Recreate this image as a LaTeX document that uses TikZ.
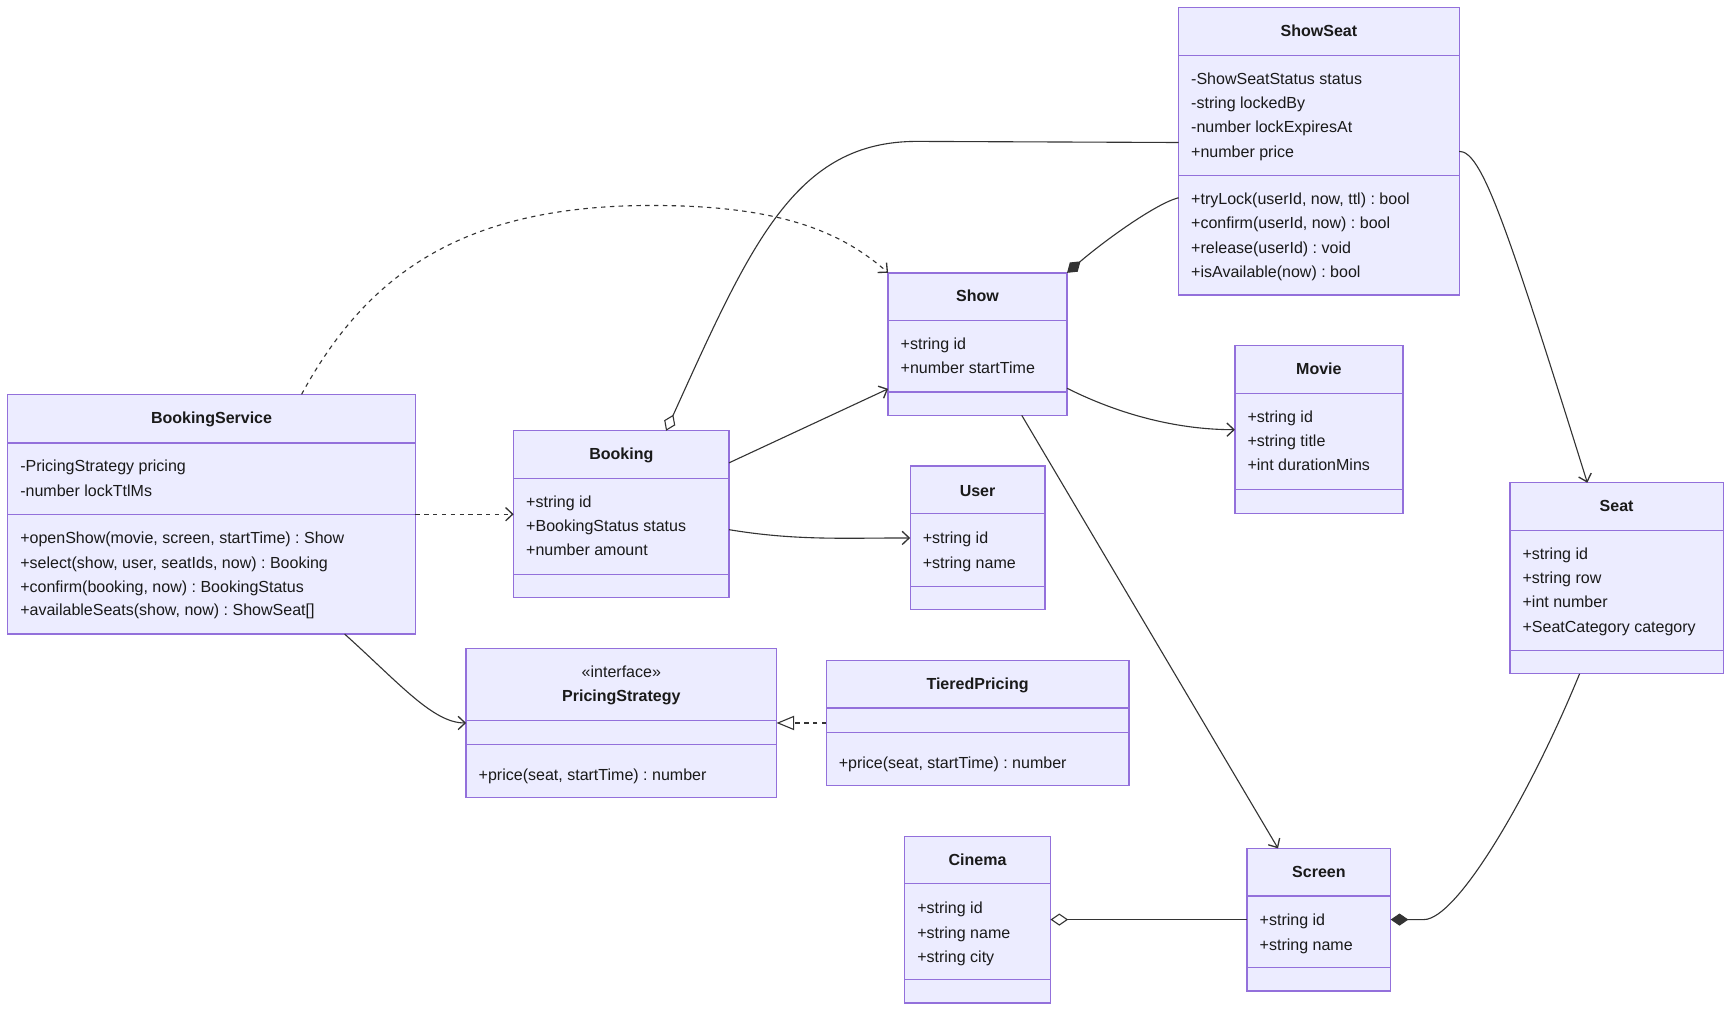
\documentclass[tikz,border=0pt]{standalone}
\usepackage{fontspec}
\setmainfont{Liberation Sans}
\usetikzlibrary{arrows.meta,calc}
\frenchspacing
\definecolor{boxfill}{HTML}{ECECFF}
\definecolor{boxline}{HTML}{9370DB}
\definecolor{edgecol}{HTML}{333333}
\definecolor{txtcol}{HTML}{1A1A1A}
\tikzset{
  classbox/.style={draw=boxline, fill=boxfill, line width=0.6pt, rectangle, inner sep=0pt, outer sep=0pt, anchor=north west},
  divider/.style={draw=boxline, line width=0.6pt},
  titletext/.style={font=\fontsize{7.25}{9}\selectfont\bfseries, text=txtcol, inner sep=0pt, anchor=mid},
  plaintext/.style={font=\fontsize{7.25}{9}\selectfont, text=txtcol, inner sep=0pt, anchor=mid},
  linetext/.style={font=\fontsize{7.25}{9}\selectfont, text=txtcol, inner sep=0pt, anchor=mid west},
  rel/.style={draw=edgecol, line width=0.5pt},
  dashedrel/.style={rel, dash pattern=on 2pt off 2pt},
  veetip/.style={-{Straight Barb[length=3.2pt,width=6pt,line width=0.6pt]}},
  opendia/.style={-{Diamond[length=8pt,width=5.5pt,fill=white,line width=0.5pt]}},
  filldia/.style={-{Diamond[length=8pt,width=5.5pt,fill=edgecol,line width=0.5pt]}},
  opentri/.style={-{Triangle[length=8pt,width=6.5pt,fill=white,line width=0.5pt]}}
}
\newcommand\umlclass[9]{%
  \node[classbox, minimum width={(#4-#2)*0.5pt}, minimum height={(#5-#3)*0.5pt}] (#1) at (#2,#3) {};
  \draw[divider] (#2,#6) -- (#4,#6) (#2,#7) -- (#4,#7);
  \node[titletext] (#1-title) at ({(#2+#4)/2},#8) {#9};
}
\newcommand\umltext[4]{\node[linetext] (#1) at (#2,#3) {#4};}
\begin{document}
\begin{tikzpicture}[x=0.5pt,y=-0.5pt]
\useasboundingbox[fill=white] (0,0) rectangle (1568,917);

% ShowSeat
\umlclass{ss}{1067}{7}{1321}{267}{50}{159}{28}{ShowSeat}
\umltext{ss-a1}{1078}{71}{-ShowSeatStatus status}
\umltext{ss-a2}{1078}{93}{-string lockedBy}
\umltext{ss-a3}{1078}{115}{-number lockExpiresAt}
\umltext{ss-a4}{1078}{137}{+number price}
\umltext{ss-m1}{1078}{180}{+tryLock(userId, now, ttl) : bool}
\umltext{ss-m2}{1078}{202}{+confirm(userId, now) : bool}
\umltext{ss-m3}{1078}{224}{+release(userId) : void}
\umltext{ss-m4}{1078}{246}{+isAvailable(now) : bool}

% Show
\umlclass{show}{804}{247}{966}{376}{290}{355}{268}{Show}
\umltext{show-a1}{815}{311}{+string id}
\umltext{show-a2}{815}{333}{+number startTime}

% Movie
\umlclass{movie}{1118}{313}{1270}{465}{356}{443}{334}{Movie}
\umltext{movie-a1}{1129}{377}{+string id}
\umltext{movie-a2}{1129}{399}{+string title}
\umltext{movie-a3}{1129}{421}{+int durationMins}

% Seat
\umlclass{seat}{1367}{437}{1560}{610}{480}{589}{458}{Seat}
\umltext{seat-a1}{1378}{501}{+string id}
\umltext{seat-a2}{1378}{523}{+string row}
\umltext{seat-a3}{1378}{545}{+int number}
\umltext{seat-a4}{1378}{567}{+SeatCategory category}

% BookingService
\umlclass{bs}{7}{357}{376}{574}{401}{466}{378}{BookingService}
\umltext{bs-a1}{18}{422}{-PricingStrategy pricing}
\umltext{bs-a2}{18}{444}{-number lockTtlMs}
\umltext{bs-m1}{18}{487}{+openShow(movie, screen, startTime) : Show}
\umltext{bs-m2}{18}{509}{+select(show, user, seatIds, now) : Booking}
\umltext{bs-m3}{18}{531}{+confirm(booking, now) : BookingStatus}
\umltext{bs-m4}{18}{552}{+availableSeats(show, now) : ShowSeat[]}

% Booking
\umlclass{booking}{465}{390}{660}{541}{433}{520}{411}{Booking}
\umltext{booking-a1}{476}{454}{+string id}
\umltext{booking-a2}{476}{476}{+BookingStatus status}
\umltext{booking-a3}{476}{498}{+number amount}

% User
\umlclass{user}{824}{422}{946}{552}{465}{531}{444}{User}
\umltext{user-a1}{835}{487}{+string id}
\umltext{user-a2}{835}{509}{+string name}

% PricingStrategy
\umlclass{ps}{422}{587}{703}{722}{652}{674}{630}{PricingStrategy}
\node[plaintext] (ps-stereo) at (562.5,608) {«interface»};
\umltext{ps-m1}{433}{701}{+price(seat, startTime) : number}

% TieredPricing
\umlclass{tp}{748}{598}{1022}{711}{641}{663}{619}{TieredPricing}
\umltext{tp-m1}{759}{690}{+price(seat, startTime) : number}

% Cinema
\umlclass{cinema}{819}{757}{951}{908}{800}{887}{778}{Cinema}
\umltext{cinema-a1}{830}{822}{+string id}
\umltext{cinema-a2}{830}{844}{+string name}
\umltext{cinema-a3}{830}{866}{+string city}

% Screen
\umlclass{screen}{1129}{768}{1259}{897}{811}{876}{789}{Screen}
\umltext{screen-a1}{1140}{833}{+string id}
\umltext{screen-a2}{1140}{855}{+string name}

% helper coordinates
\coordinate (kdep) at (590,186);
\coordinate (kagg) at (830,128);

% connectors
\draw[dashedrel, veetip] ($(bs.north west)+(266,0)$) .. controls +(60,-110) and +(-170,0) .. (kdep) .. controls +(110,0) and +(-45,-40) .. (show.north west);
\draw[dashedrel, veetip] (bs.east) -- (booking.west);
\draw[rel, veetip] ($(bs.south west)+(305,0)$) .. controls +(50,45) and +(-30,0) .. (ps.west);
\draw[rel, veetip] ($(booking.north east)+(0,29)$) -- ($(show.south west)+(0,-24)$);
\draw[rel, veetip] ($(booking.east)+(0,14)$) .. controls +(60,10) and +(-60,0) .. (user.west);
\draw[rel, opendia] ($(ss.west)+(0,-8)$) -- (kagg) .. controls +(-110,0) and +(77,-170) .. ($(booking.north west)+(138,0)$);
\draw[rel, filldia] ($(ss.west)+(0,42)$) .. controls +(-20,5) and +(35,-30) .. (show.north east);
\draw[rel, veetip] (ss.east) .. controls +(20,0) and +(-75,-240) .. ($(seat.north west)+(70,0)$);
\draw[rel, veetip] ($(show.east)+(0,40)$) .. controls +(50,25) and +(-50,0) .. (movie.west);
\draw[rel, veetip] ($(show.south west)+(121,0)$) -- ($(screen.north west)+(28,0)$);
\draw[dashedrel, opentri] (tp.west) -- (ps.east);
\draw[rel, opendia] (screen.west) -- (cinema.east);
\draw[rel, filldia] ($(seat.south west)+(63,0)$) .. controls +(-45,110) and +(30,0) .. ($(screen.east)+(30,0)$) -- (screen.east);
\end{tikzpicture}
\end{document}
